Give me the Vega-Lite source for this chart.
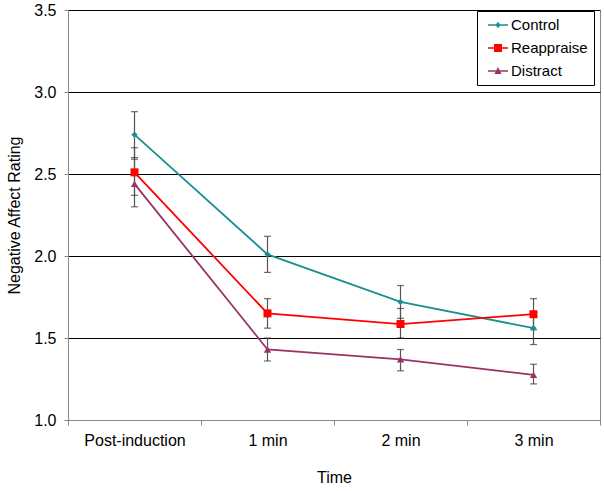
{
  "$schema": "https://vega.github.io/schema/vega-lite/v6.json",
  "autosize": "none",
  "width": 532,
  "height": 410,
  "padding": {"left": 68, "top": 10, "right": 4, "bottom": 71},
  "background": "white",
  "config": {
    "font": "Liberation Sans",
    "view": {"stroke": "#888888", "strokeWidth": 1},
    "axis": {"labelFont": "Liberation Sans", "titleFont": "Liberation Sans", "labelColor": "#000", "titleColor": "#000", "titleFontWeight": "normal"},
    "legend": {"labelFontSize": 15, "labelFont": "Liberation Sans"}
  },
  "data": {"values": [
    {"group": "Control", "time": "Post-induction", "mean": 2.74, "lo": 2.60, "hi": 2.88},
    {"group": "Control", "time": "1 min", "mean": 2.01, "lo": 1.90, "hi": 2.12},
    {"group": "Control", "time": "2 min", "mean": 1.72, "lo": 1.62, "hi": 1.82},
    {"group": "Control", "time": "3 min", "mean": 1.56, "lo": 1.46, "hi": 1.66},
    {"group": "Reappraise", "time": "Post-induction", "mean": 2.51, "lo": 2.37, "hi": 2.66},
    {"group": "Reappraise", "time": "1 min", "mean": 1.65, "lo": 1.56, "hi": 1.74},
    {"group": "Reappraise", "time": "2 min", "mean": 1.585, "lo": 1.50, "hi": 1.68},
    {"group": "Reappraise", "time": "3 min", "mean": 1.645, "lo": 1.55, "hi": 1.74},
    {"group": "Distract", "time": "Post-induction", "mean": 2.44, "lo": 2.30, "hi": 2.59},
    {"group": "Distract", "time": "1 min", "mean": 1.43, "lo": 1.36, "hi": 1.50},
    {"group": "Distract", "time": "2 min", "mean": 1.37, "lo": 1.30, "hi": 1.43},
    {"group": "Distract", "time": "3 min", "mean": 1.275, "lo": 1.22, "hi": 1.34}
  ]},
  "encoding": {
    "x": {
      "field": "time", "type": "nominal",
      "sort": ["Post-induction", "1 min", "2 min", "3 min"],
      "scale": {"paddingInner": 0, "paddingOuter": 0},
      "axis": {"title": "Time", "labelAngle": 0, "tickBand": "extent", "labelFontSize": 16, "titleFontSize": 16, "titlePadding": 21, "domainColor": "#888888", "tickColor": "#888888", "tickSize": 5, "labelPadding": 7}
    }
  },
  "layer": [
    {
      "mark": {"type": "rule", "color": "#555555", "strokeWidth": 1.2},
      "encoding": {
        "y": {"field": "lo", "type": "quantitative", "scale": {"domain": [1, 3.5], "nice": false, "zero": false},
          "axis": {"title": "Negative Affect Rating", "values": [1, 1.5, 2, 2.5, 3, 3.5], "format": ".1f", "grid": true, "gridColor": "#000000", "gridOpacity": 1, "domainColor": "#888888", "tickColor": "#888888", "tickSize": 4, "labelFontSize": 16, "titleFontSize": 16, "titlePadding": 11, "labelPadding": 8}},
        "y2": {"field": "hi"}
      }
    },
    {
      "mark": {"type": "tick", "color": "#333333", "size": 7, "thickness": 1.2},
      "encoding": {"y": {"field": "lo", "type": "quantitative"}}
    },
    {
      "mark": {"type": "tick", "color": "#333333", "size": 7, "thickness": 1.2},
      "encoding": {"y": {"field": "hi", "type": "quantitative"}}
    },
    {
      "mark": {"type": "line", "strokeWidth": 1.8},
      "encoding": {
        "y": {"field": "mean", "type": "quantitative"},
        "color": {"field": "group", "type": "nominal", "scale": {"domain": ["Control", "Reappraise", "Distract"], "range": ["#1A9090", "#FF0000", "#993366"]},
          "legend": {"title": null, "orient": "none", "legendX": 409, "legendY": 1, "strokeColor": "#000000", "fillColor": "white", "padding": 6, "labelFontSize": 15, "labelColor": "#000", "symbolSize": 256, "symbolOffset": 7, "labelOffset": 5, "rowPadding": 7, "symbolStrokeWidth": 0, "symbolFillColor": "#000",
            "encode": {"symbols": {"update": {
              "shape": {"signal": "datum.value === 'Control' ? 'M-1.25,-0.1H1.25V0.1H-1.25Z M0,-0.4L0.32,0L0,0.4L-0.32,0Z' : datum.value === 'Reappraise' ? 'M-1.25,-0.1H1.25V0.1H-1.25Z M-0.5,-0.5H0.5V0.5H-0.5Z' : 'M-1.25,-0.1H1.25V0.1H-1.25Z M0,-0.5L0.45,0.38H-0.45Z'"},
              "size": {"value": 256},
              "fill": {"signal": "scale('color', datum.value)"},
              "strokeWidth": {"value": 0}}}}}},
        "detail": {"field": "group"}
      }
    },
    {
      "transform": [{"filter": "datum.group === 'Control'"}],
      "mark": {"type": "point", "filled": true, "opacity": 1, "shape": "diamond", "size": 40},
      "encoding": {
        "y": {"field": "mean", "type": "quantitative"},
        "color": {"field": "group", "type": "nominal"}
      }
    },
    {
      "transform": [{"filter": "datum.group === 'Reappraise'"}],
      "mark": {"type": "point", "filled": true, "opacity": 1, "shape": "square", "size": 64},
      "encoding": {
        "y": {"field": "mean", "type": "quantitative"},
        "color": {"field": "group", "type": "nominal"}
      }
    },
    {
      "transform": [{"filter": "datum.group === 'Distract'"}],
      "mark": {"type": "point", "filled": true, "opacity": 1, "shape": "triangle-up", "size": 55},
      "encoding": {
        "y": {"field": "mean", "type": "quantitative"},
        "color": {"field": "group", "type": "nominal"}
      }
    }
  ]
}
